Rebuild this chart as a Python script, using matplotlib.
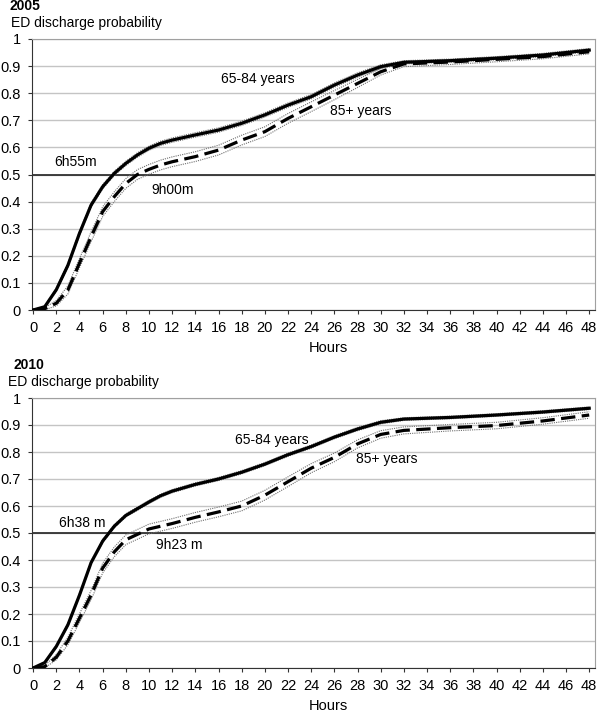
# ED discharge probability by age group, 2005 and 2010
import numpy as np
import matplotlib.pyplot as plt

plt.rcParams['font.family'] = ['Liberation Sans', 'DejaVu Sans']
plt.rcParams['font.size'] = 10

# hours since arrival at which the curves were read
hours = [0, 1, 2, 3, 4, 5, 6, 7, 8, 9, 10, 11, 12, 14, 16, 18, 20, 22,
         24, 26, 28, 30, 32, 36, 40, 44, 48]

# 2005
p2005_6584 = [0, 0.012, 0.075, 0.165, 0.283, 0.387, 0.455, 0.504, 0.541, 0.572,
              0.597, 0.615, 0.627, 0.646, 0.664, 0.689, 0.72, 0.756,
              0.787, 0.83, 0.867, 0.898, 0.914, 0.92, 0.929, 0.941, 0.959]
p2005_85 = [0, 0.005, 0.025, 0.074, 0.173, 0.27, 0.363, 0.418, 0.467, 0.50,
            0.519, 0.535, 0.547, 0.566, 0.59, 0.627, 0.658, 0.707,
            0.75, 0.793, 0.836, 0.879, 0.908, 0.915, 0.925, 0.935, 0.953]
ci2005_6584 = [0, 0.003, 0.006, 0.008, 0.008, 0.008, 0.008, 0.008, 0.008, 0.008,
               0.008, 0.008, 0.008, 0.008, 0.008, 0.008, 0.008, 0.008,
               0.008, 0.008, 0.008, 0.007, 0.006, 0.006, 0.006, 0.006, 0.006]
ci2005_85 = [0, 0.004, 0.01, 0.015, 0.017, 0.018, 0.018, 0.018, 0.018, 0.018,
             0.018, 0.018, 0.018, 0.018, 0.018, 0.018, 0.018, 0.018,
             0.018, 0.017, 0.015, 0.012, 0.01, 0.009, 0.009, 0.008, 0.008]

# 2010
p2010_6584 = [0, 0.02, 0.08, 0.16, 0.27, 0.39, 0.47, 0.525, 0.565, 0.59,
              0.615, 0.638, 0.655, 0.68, 0.70, 0.725, 0.755, 0.79,
              0.82, 0.855, 0.885, 0.91, 0.922, 0.928, 0.937, 0.948, 0.962]
p2010_85 = [0, 0.005, 0.04, 0.10, 0.185, 0.27, 0.37, 0.43, 0.475, 0.495,
            0.515, 0.525, 0.535, 0.558, 0.578, 0.60, 0.64, 0.69,
            0.74, 0.78, 0.83, 0.865, 0.88, 0.89, 0.898, 0.915, 0.937]
ci2010_6584 = [0, 0.003, 0.005, 0.006, 0.006, 0.006, 0.006, 0.006, 0.006, 0.006,
               0.006, 0.006, 0.006, 0.006, 0.006, 0.006, 0.006, 0.006,
               0.006, 0.006, 0.006, 0.006, 0.005, 0.005, 0.005, 0.005, 0.005]
ci2010_85 = [0, 0.004, 0.01, 0.014, 0.016, 0.017, 0.018, 0.018, 0.018, 0.018,
             0.018, 0.018, 0.018, 0.018, 0.018, 0.018, 0.018, 0.018,
             0.017, 0.016, 0.015, 0.014, 0.013, 0.012, 0.012, 0.012, 0.012]

panels = [
    dict(year='2005', young=p2005_6584, old=p2005_85, ci_young=ci2005_6584, ci_old=ci2005_85,
         labels=[('65-84 years', 16.2, 0.852), ('85+ years', 25.6, 0.734),
                 ('6h55m', 1.8, 0.546), ('9h00m', 10.2, 0.443)]),
    dict(year='2010', young=p2010_6584, old=p2010_85, ci_young=ci2010_6584, ci_old=ci2010_85,
         labels=[('65-84 years', 17.4, 0.845), ('85+ years', 27.9, 0.774),
                 ('6h38 m', 2.2, 0.536), ('9h23 m', 10.6, 0.455)]),
]

W, H = 600, 714
fig = plt.figure(figsize=(6, 7.14), dpi=100)

# axes boxes in pixels: (left, top, right, bottom)
boxes = [(32, 39, 595, 310), (32, 398, 595, 668)]
title_pos = [((9, 6), (11, 23)), ((13, 365), (8, 382))]

x = np.array(hours)
for p, (l, t, r, b), (ypos, epos) in zip(panels, boxes, title_pos):
    ax = fig.add_axes([l / W, 1 - b / H, (r - l) / W, (b - t) / H])
    ax.set_xlim(-0.1, 48.5)
    ax.set_ylim(0, 1)
    ax.set_xticks(range(0, 49, 2))
    ax.set_yticks(np.arange(0, 1.01, 0.1))
    ax.set_yticklabels(['0', '0.1', '0.2', '0.3', '0.4', '0.5', '0.6', '0.7', '0.8', '0.9', '1'])
    ax.grid(axis='y', color='#c4c4c4', lw=1)
    ax.set_axisbelow(True)
    ax.axhline(0.5, color='#222222', lw=1.2, zorder=2)

    for key, ci, style in [('young', 'ci_young', '-'), ('old', 'ci_old', '--')]:
        y = np.array(p[key])
        c = np.array(p[ci])
        ax.plot(x, y + c, color='#707070', lw=0.8, ls=(0, (1, 1)), zorder=3)
        ax.plot(x, y - c, color='#707070', lw=0.8, ls=(0, (1, 1)), zorder=3)
        if style == '-':
            ax.plot(x, y, color='black', lw=2.3, zorder=4, solid_joinstyle='round')
        else:
            ax.plot(x, y, color='black', lw=2.3, dashes=(4.5, 2), zorder=4)

    for txt, hx, hy in p['labels']:
        ax.text(hx, hy, txt, ha='left', va='center', fontsize=10)

    for s in ['top', 'right']:
        ax.spines[s].set_color('#a0a0a0')
    ax.spines['left'].set_color('#333333')
    ax.spines['bottom'].set_color('#333333')
    ax.tick_params(axis='both', direction='out', length=3, color='#333333', pad=5, labelsize=10.5)

    ax.set_xlabel('Hours', fontsize=10.5, va='center')
    ax.xaxis.set_label_coords(0.526, -38 / (b - t))

    fig.text(ypos[0] / W, 1 - ypos[1] / H, p['year'], fontweight='bold', fontsize=10,
             ha='left', va='center')
    fig.text(epos[0] / W, 1 - epos[1] / H, 'ED discharge probability', fontsize=10,
             ha='left', va='center')

fig.savefig('out.png', dpi=100)
